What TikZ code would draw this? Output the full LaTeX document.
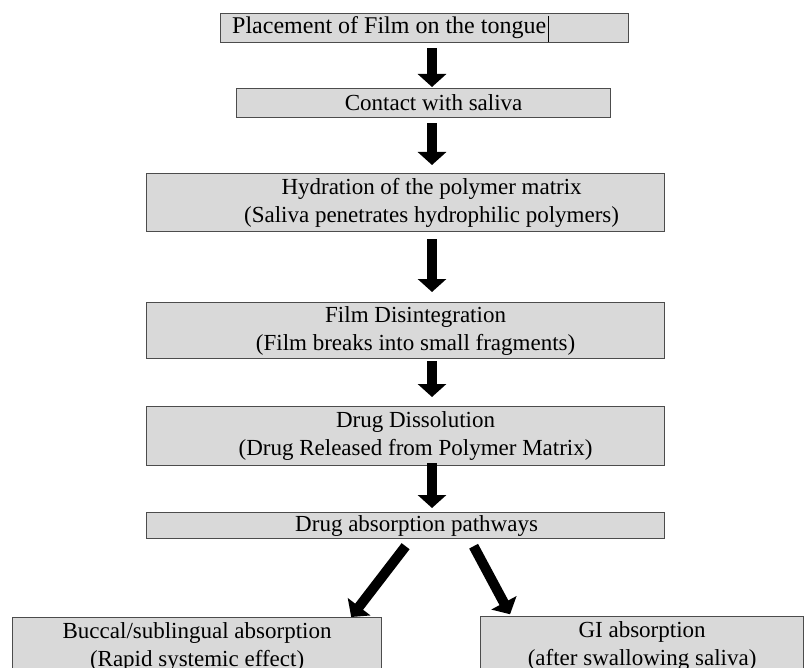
\documentclass[tikz,border=0pt]{standalone}
\usepackage{fontspec}
\setmainfont{Liberation Serif}
\usetikzlibrary{arrows.meta}

\begin{document}
\begin{tikzpicture}[x=1pt, y=-1pt,
      boxnode/.style={draw=black!70, line width=1.2pt, fill=black!15, inner sep=0pt, anchor=north west},
      boxtext/.style={align=center, inner sep=0pt, font=\fontsize{23}{28}\selectfont},
      fatarr/.style={-{Triangle[width=28pt, length=13pt]}, line width=10pt, black}]
    \useasboundingbox (0,0) rectangle (810,668);
    \clip (0,0) rectangle (810,668);
    \coordinate (col) at (432,0);
    % boxes, placed by their top left corner
    \node[boxnode, minimum width=408pt, minimum height=29pt,
          label={[boxtext, anchor=west, xshift=12pt, font=\fontsize{24}{28}\selectfont]west:Placement of Film on the tongue}] (b1) at (220,13) {};
    \node[boxnode, minimum width=374pt, minimum height=29pt,
          label={[boxtext, xshift=10pt]center:Contact with saliva}] (b2) at (236,88) {};
    \node[boxnode, minimum width=518pt, minimum height=58pt,
          label={[boxtext, xshift=26pt]center:{Hydration of the polymer matrix\\(Saliva penetrates hydrophilic polymers)}}] (b3) at (146,173) {};
    \node[boxnode, minimum width=518pt, minimum height=56pt,
          label={[boxtext, xshift=10pt]center:{Film Disintegration\\(Film breaks into small fragments)}}] (b4) at (146,302) {};
    \node[boxnode, minimum width=518pt, minimum height=59pt,
          label={[boxtext, xshift=10pt]center:{Drug Dissolution\\(Drug Released from Polymer Matrix)}}] (b5) at (146,406) {};
    \node[boxnode, minimum width=518pt, minimum height=26pt,
          label={[boxtext, xshift=11pt]center:Drug absorption pathways}] (b6) at (146,512) {};
    \node[boxnode, minimum width=369pt, minimum height=58pt,
          label={[boxtext]center:{Buccal/sublingual absorption\\(Rapid systemic effect)}}] (bl) at (12,617) {};
    \node[boxnode, minimum width=323pt, minimum height=58pt,
          label={[boxtext]center:{GI absorption\\(after swallowing saliva)}}] (br) at (480,616) {};
    % text cursor left in the first box
    \draw[line width=0.8pt] ([xshift=328pt, yshift=-3pt]b1.north west) -- ([xshift=328pt, yshift=1pt]b1.south west);
    % arrows
    \draw[fatarr, shorten <=5pt, shorten >=1pt] (b1.south -| col) -- (b2.north -| col);
    \draw[fatarr, shorten <=5pt, shorten >=8pt] (b2.south -| col) -- (b3.north -| col);
    \draw[fatarr, shorten <=7pt, shorten >=10pt] (b3.south -| col) -- (b4.north -| col);
    \draw[fatarr, shorten <=2pt, shorten >=9pt] (b4.south -| col) -- (b5.north -| col);
    \draw[fatarr, shorten <=-3pt, shorten >=4pt] (b5.south -| col) -- (b6.north -| col);
    \draw[fatarr] ([yshift=-7pt]b6.south) -- ([xshift=-31pt]bl.north east);
    \draw[fatarr, shorten >=2pt] ([xshift=68pt, yshift=-7pt]b6.south) -- ([xshift=31pt]br.north west);
  \end{tikzpicture}
\end{document}
